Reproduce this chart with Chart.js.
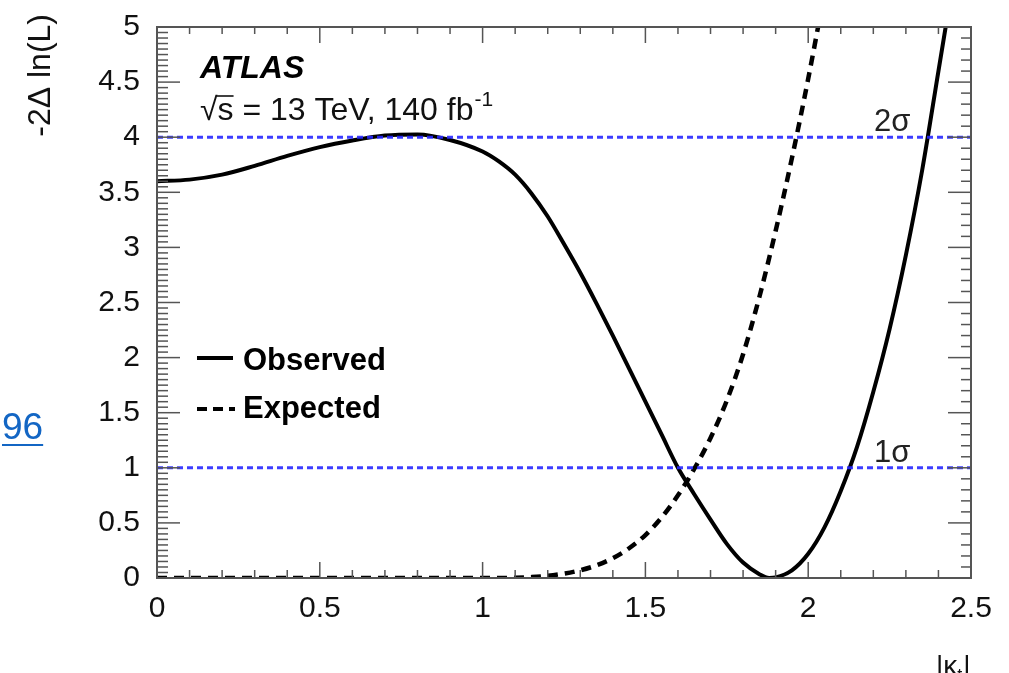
<!DOCTYPE html>
<html>
<head>
<meta charset="utf-8">
<title>-2Δ ln(L) scan in |κt|</title>
<script src="https://cdn.jsdelivr.net/npm/chart.js@4.4.1/dist/chart.umd.min.js"></script>
<style>
    html, body { margin: 0; padding: 0; background: #fff; }
    #wrap { position: relative; width: 1009px; height: 673px; overflow: hidden; }
    #nllChart { position: absolute; left: 0; top: 0; }
    .ref-link {
        position: absolute; left: 2px; top: 408px;
        font: 37px "Liberation Sans", Arial, Helvetica, sans-serif;
        line-height: 37px; color: #1366c4;
        text-decoration: underline; text-underline-offset: 5px; text-decoration-thickness: 2px;
    }
</style>
</head>
<body>
<div id="wrap">
    <canvas id="nllChart" width="1009" height="673"></canvas>
    <a class="ref-link">96</a>
</div>
<script>
const FONT = '"Liberation Sans", Arial, Helvetica, sans-serif';

// observed likelihood scan
const kappaObs = [0, 0.1, 0.2, 0.3, 0.4, 0.5, 0.6, 0.7, 0.8, 0.9, 1.0, 1.05, 1.1, 1.15, 1.2, 1.25, 1.3, 1.35, 1.4, 1.45,
                  1.5, 1.55, 1.6, 1.65, 1.7, 1.75, 1.8, 1.85, 1.88, 1.9, 1.95, 2.0, 2.05, 2.1, 2.15, 2.2, 2.25,
                  2.3, 2.35, 2.4, 2.45];
const nllObs = [3.60, 3.615, 3.66, 3.74, 3.83, 3.91, 3.97, 4.015, 4.025, 3.975, 3.87, 3.78, 3.66, 3.49, 3.28, 3.03, 2.77, 2.49, 2.20, 1.90,
                1.60, 1.30, 1.00, 0.76, 0.53, 0.31, 0.14, 0.035, 0.0, 0.005, 0.07, 0.22, 0.46, 0.79, 1.19, 1.69, 2.26,
                2.93, 3.70, 4.60, 5.50];

// expected (SM) scan
const kappaExp = [0, 0.2, 0.4, 0.6, 0.8, 1.0, 1.05, 1.1, 1.15, 1.2, 1.25, 1.3, 1.35, 1.4, 1.45, 1.5, 1.55, 1.6, 1.65, 1.7,
                  1.75, 1.8, 1.85, 1.9, 1.95, 2.0, 2.05];
const nllExp = [0, 0, 0, 0, 0, 0, 0, 0.002, 0.008, 0.02, 0.04, 0.07, 0.115, 0.18, 0.27, 0.39, 0.55, 0.75, 0.99, 1.27,
                1.61, 2.03, 2.55, 3.15, 3.81, 4.53, 5.31];

const sigmaLevels = [1, 4];
const sigmaLabels = ['1σ', '2σ'];

const legendNames = ['Observed', 'Expected'];

function toPoints(xs, ys) {
    return xs.map((x, i) => ({ x: x, y: ys[i] }));
}

// frame, inward ticks and all text inside the pad
const padDecor = {
    id: 'padDecor',
    afterDatasetsDraw(chart) {
        const { ctx, chartArea: a, scales: { x, y } } = chart;
        ctx.save();

        const line = (x1, y1, x2, y2) => {
            ctx.beginPath();
            ctx.moveTo(x1, y1);
            ctx.lineTo(x2, y2);
            ctx.stroke();
        };

        ctx.strokeStyle = '#555';
        ctx.lineWidth = 1.5;
        for (let i = 0; i <= 25; i++) {
            const px = x.getPixelForValue(i / 10);
            const major = i % 5 === 0;
            line(px, a.bottom, px, a.bottom - (major ? 16 : 8));
            line(px, a.top, px, a.top + (major ? 16 : 7));
        }
        for (let i = 0; i <= 100; i++) {
            const py = y.getPixelForValue(i * 0.05);
            line(a.left, py, a.left + (i % 10 === 0 ? 23 : 11), py);
        }
        for (let i = 0; i <= 50; i++) {
            const py = y.getPixelForValue(i / 10);
            line(a.right, py, a.right - (i % 5 === 0 ? 23 : 10), py);
        }

        ctx.lineWidth = 2;
        ctx.strokeRect(a.left, a.top, a.right - a.left, a.bottom - a.top);

        // ATLAS label
        ctx.fillStyle = '#000';
        ctx.textAlign = 'left';
        ctx.textBaseline = 'alphabetic';
        ctx.font = 'italic bold 32px ' + FONT;
        ctx.fillText('ATLAS', 200, 78);

        ctx.font = '32px ' + FONT;
        ctx.fillStyle = '#111';
        const rootW = ctx.measureText('√').width;
        ctx.fillText('√', 200, 120);
        ctx.fillText('s', 200 + rootW, 120);
        const sW = ctx.measureText('s').width;
        ctx.lineWidth = 1.6;
        ctx.strokeStyle = '#111';
        line(200 + rootW - 1, 96, 200 + rootW + sW, 96);
        const rest = ' = 13 TeV, 140 fb';
        ctx.fillText(rest, 200 + rootW + sW, 120);
        const restW = ctx.measureText(rest).width;
        ctx.font = '21px ' + FONT;
        ctx.fillText('-1', 200 + rootW + sW + restW + 1, 106);

        // sigma labels
        ctx.font = '31px ' + FONT;
        ctx.fillStyle = '#222';
        sigmaLevels.forEach((level, i) => {
            ctx.fillText(sigmaLabels[i], 874, y.getPixelForValue(level) - 6);
        });

        // legend
        ctx.strokeStyle = '#000';
        ctx.lineWidth = 4;
        line(197, 358, 233, 358);
        ctx.setLineDash([10, 6]);
        line(197, 409, 235, 409);
        ctx.setLineDash([]);
        ctx.fillStyle = '#000';
        ctx.font = 'bold 31px ' + FONT;
        ctx.fillText(legendNames[0], 243, 370);
        ctx.fillText(legendNames[1], 243, 418);

        // x axis title |κt|
        ctx.fillStyle = '#111';
        ctx.font = '28px ' + FONT;
        ctx.fillText('|κ', 936, 675);
        const kW = ctx.measureText('|κ').width;
        ctx.font = '18px ' + FONT;
        ctx.fillText('t', 936 + kW, 681);
        const tW = ctx.measureText('t').width;
        ctx.font = '28px ' + FONT;
        ctx.fillText('|', 936 + kW + tW + 1, 675);

        // y axis title
        ctx.translate(41, 14);
        ctx.rotate(-Math.PI / 2);
        ctx.textAlign = 'right';
        ctx.textBaseline = 'middle';
        ctx.font = '32px ' + FONT;
        ctx.fillText('-2Δ ln(L)', 0, 0);

        ctx.restore();
    }
};

const sigmaSets = sigmaLevels.map(level => ({
    label: 'level ' + level,
    data: [{ x: 0, y: level }, { x: 2.5, y: level }],
    showLine: true,
    borderColor: 'rgba(40, 40, 255, 0.9)',
    borderWidth: 3,
    borderDash: [6, 4],
    pointRadius: 0
}));

new Chart(document.getElementById('nllChart'), {
    type: 'scatter',
    data: {
        datasets: sigmaSets.concat([
            {
                label: legendNames[0],
                data: toPoints(kappaObs, nllObs),
                showLine: true,
                borderColor: '#000',
                borderWidth: 4,
                pointRadius: 0,
                cubicInterpolationMode: 'monotone'
            },
            {
                label: legendNames[1],
                data: toPoints(kappaExp, nllExp),
                showLine: true,
                borderColor: '#000',
                borderWidth: 4.5,
                borderDash: [10, 7],
                pointRadius: 0,
                cubicInterpolationMode: 'monotone'
            }
        ])
    },
    options: {
        responsive: false,
        animation: false,
        devicePixelRatio: 1,
        layout: { padding: { left: 0, right: 38, top: 22, bottom: 0 } },
        plugins: {
            legend: { display: false },
            tooltip: { enabled: false }
        },
        scales: {
            x: {
                type: 'linear',
                min: 0,
                max: 2.5,
                grid: { display: false },
                border: { display: false },
                ticks: {
                    stepSize: 0.5,
                    padding: 5,
                    color: '#111',
                    maxRotation: 0,
                    autoSkip: false,
                    font: { family: FONT, size: 30 },
                    callback: v => String(v)
                },
                afterFit: scale => { scale.height = 95; }
            },
            y: {
                min: 0,
                max: 5,
                grid: { display: false },
                border: { display: false },
                ticks: {
                    stepSize: 0.5,
                    padding: 9,
                    color: '#111',
                    autoSkip: false,
                    font: { family: FONT, size: 30 },
                    callback: v => String(v)
                },
                afterFit: scale => { scale.width = 157; }
            }
        }
    },
    plugins: [padDecor]
});
</script>
</body>
</html>
